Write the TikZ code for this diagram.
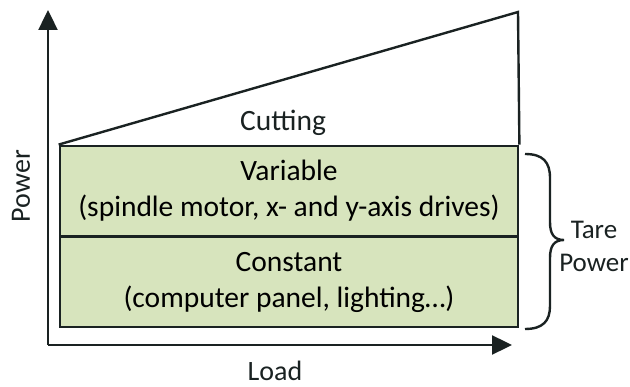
\documentclass[tikz,border=0pt]{standalone}
\usepackage{fontspec}
\setmainfont{Carlito}
\usetikzlibrary{arrows.meta}
\definecolor{boxgreen}{HTML}{D7E4BD}
\definecolor{ink}{HTML}{1A2222}
\tikzset{
  box/.style={draw=ink, line width=2.8pt, fill=boxgreen, minimum width=458pt, minimum height=90pt, inner sep=0pt, align=center, font=\fontsize{29.5}{36}\selectfont},
  axis/.style={draw=ink, line width=2.4pt, -{Triangle[length=20pt,width=19pt]}},
  lbl/.style={inner sep=0pt, font=\fontsize{28}{32}\selectfont, text=ink, align=center},
  edge/.style={draw=ink, line width=2.4pt}
}
\begin{document}
\begin{tikzpicture}[x=1pt,y=-1pt]
\useasboundingbox (0,0) rectangle (630,387);
\coordinate (O) at (48,345);
\coordinate (ytop) at (48,10);
\coordinate (xend) at (512,345);
\coordinate (peak) at (518,12);
\draw[axis] (O) -- (ytop);
\draw[axis] (O) -- (xend);
\node[box] (var) at (289,191) {Variable\\(spindle motor, x- and y-axis drives)};
\node[box] (con) at (289,282) {Constant\\(computer panel, lighting\ldots)};
\draw[edge, line join=miter] (var.north west) -- (peak) -- (var.north east);
\node[lbl, font=\fontsize{29.5}{36}\selectfont] (cut) at (283,123) {Cutting};
\node[lbl, rotate=90] (pw) at (21,186) {Power};
\node[lbl] (load) at (275,371) {Load};
\node[lbl, font=\fontsize{27}{33}\selectfont] (tare) at (594,246) {Tare\\Power};
\draw[edge] (525,154) .. controls (543,154) and (550,162) .. (550,178) -- (550,222)
  .. controls (550,234) and (554,240) .. (564,240)
  .. controls (554,240) and (550,246) .. (550,258) -- (550,306)
  .. controls (550,321) and (543,329) .. (525,329);
\end{tikzpicture}
\end{document}
